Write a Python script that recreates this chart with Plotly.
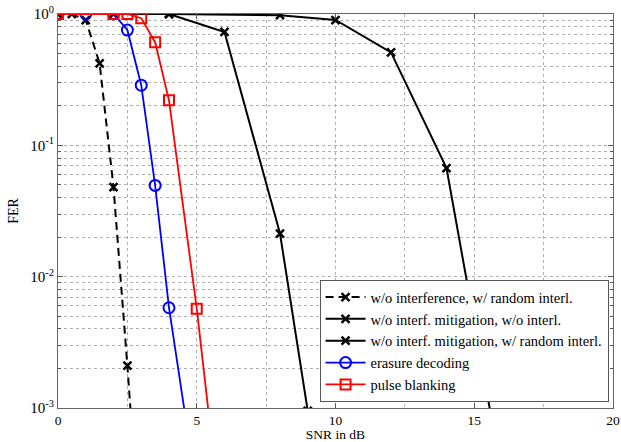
import plotly.graph_objects as go

# ---- data ----
snr_noint = [0, 0.5, 1, 1.5, 2, 2.5, 3]
fer_noint = [1.0, 1.0, 0.9, 0.42, 0.048, 0.0021, 7e-5]

snr_nomit_nointerl = [0, 4, 8, 10, 12, 14, 16]
fer_nomit_nointerl = [1.0, 1.0, 0.98, 0.9, 0.51, 0.067, 3e-4]

snr_nomit_interl = [0, 2, 4, 6, 8, 9]
fer_nomit_interl = [1.0, 1.0, 1.0, 0.73, 0.0213, 9.5e-4]

snr_erasure = [0, 1, 2, 2.5, 3, 3.5, 4, 5]
fer_erasure = [1.0, 1.0, 1.0, 0.755, 0.287, 0.0495, 0.0058, 2.3e-4]

snr_blank = [0, 2, 2.5, 3, 3.5, 4, 5, 6]
fer_blank = [1.0, 1.0, 1.0, 0.93, 0.61, 0.22, 0.0057, 8e-5]

names = [
    "w/o interference, w/ random interl.",
    "w/o interf. mitigation, w/o interl.",
    "w/o interf. mitigation, w/ random interl.",
    "erasure decoding",
    "pulse blanking",
]

x_ticks = [0, 5, 10, 15, 20]
y_ticks = [1, 0.1, 0.01, 0.001]
y_ticktext = ["10<sup>0</sup>", "10<sup>-1</sup>", "10<sup>-2</sup>", "10<sup>-3</sup>"]

FONT = "'Liberation Serif', 'DejaVu Serif', serif"

fig = go.Figure()
fig.add_trace(go.Scatter(x=snr_noint, y=fer_noint, name=names[0], mode="lines+markers",
                         line=dict(color="black", width=2, dash="8px,5px"),
                         marker=dict(symbol="x-thin", size=8, line=dict(color="black", width=2.5))))
fig.add_trace(go.Scatter(x=snr_nomit_nointerl, y=fer_nomit_nointerl, name=names[1], mode="lines+markers",
                         line=dict(color="black", width=2),
                         marker=dict(symbol="x-thin", size=8, line=dict(color="black", width=2.5))))
fig.add_trace(go.Scatter(x=snr_nomit_interl, y=fer_nomit_interl, name=names[2], mode="lines+markers",
                         line=dict(color="black", width=2),
                         marker=dict(symbol="x-thin", size=8, line=dict(color="black", width=2.5))))
fig.add_trace(go.Scatter(x=snr_erasure, y=fer_erasure, name=names[3], mode="lines+markers",
                         line=dict(color="#0000ff", width=1.8),
                         marker=dict(symbol="circle-open", size=11, color="#0000ff", line=dict(width=2))))
fig.add_trace(go.Scatter(x=snr_blank, y=fer_blank, name=names[4], mode="lines+markers",
                         line=dict(color="#ff0000", width=1.8),
                         marker=dict(symbol="square-open", size=10, color="#ff0000", line=dict(width=2))))

grid = dict(showgrid=True, gridcolor="#b0b0b0", griddash="dot", gridwidth=1)
minor_y = [m * 10.0 ** e for e in (-3, -2, -1) for m in range(2, 10)]

fig.update_xaxes(range=[0, 20], tickvals=x_ticks, ticks="inside", ticklen=5, tickcolor="#555",
                 showline=True, linecolor="#666", linewidth=1, mirror="ticks", zeroline=False,
                 automargin=False, tickfont=dict(size=13.5),
                 minor=dict(dtick=2.5, tick0=0, showgrid=True, gridcolor="#b0b0b0", griddash="dot", ticks=""),
                 title=dict(text="SNR in dB", standoff=2, font=dict(size=13.5)),
                 **grid)
fig.update_yaxes(type="log", range=[-3, 0], tickvals=y_ticks, ticktext=y_ticktext,
                 ticks="inside", ticklen=5, tickcolor="#555", automargin=False,
                 tickfont=dict(size=15),
                 showline=True, linecolor="#666", linewidth=1, mirror="ticks",
                 minor=dict(tickvals=minor_y, showgrid=True, gridcolor="#b0b0b0", griddash="dot",
                            ticks="inside", ticklen=3),
                 title=dict(text="FER", standoff=8, font=dict(size=14)),
                 **grid)

fig.update_layout(
    width=621, height=442,
    margin=dict(l=58, r=8, t=14, b=34, autoexpand=False),
    paper_bgcolor="white", plot_bgcolor="white",
    font=dict(family=FONT, size=14, color="black"),
    legend=dict(x=0.992, y=0.015, xanchor="right", yanchor="bottom",
                bgcolor="white", bordercolor="#555", borderwidth=1,
                font=dict(family=FONT, size=14.5), itemwidth=40,
                tracegroupgap=0),
    showlegend=True,
)

fig.write_html("out.html", post_script="document.body.style.margin='0';",
               config={"displayModeBar": False})
